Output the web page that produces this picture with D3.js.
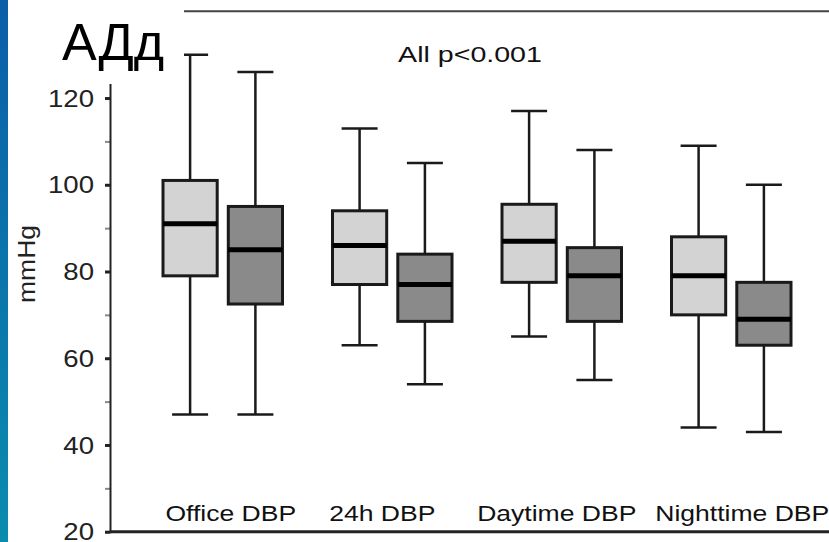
<!DOCTYPE html>
<html>
<head>
<meta charset="utf-8">
<script src="https://cdn.jsdelivr.net/npm/d3@7"></script>
<style>
  html, body { margin: 0; padding: 0; background: #fff; }
  svg { display: block; font-family: "Liberation Sans", Arial, sans-serif; }
</style>
</head>
<body>
<svg id="chart" width="829" height="542"></svg>
<script>
// ---- data ----
const categories = ["Office DBP", "24h DBP", "Daytime DBP", "Nighttime DBP"];
const seriesNames = ["light", "dark"];
// [min, q1, median, q3, max]
const lightBoxes = [
  [47, 79, 91, 101, 130],
  [63, 77, 86, 94, 113],
  [65, 77.5, 87, 95.5, 117],
  [44, 70, 79, 88, 109]
];
const darkBoxes = [
  [47, 72.5, 85, 95, 126],
  [54, 68.5, 77, 84, 105],
  [55, 68.5, 79, 85.5, 108],
  [43, 63, 69, 77.5, 100]
];
const majorTicks = [20, 40, 60, 80, 100, 120, 140];
const minorTicks = [30, 50, 70, 90, 110, 130];
const yLabel = "mmHg";
const noteText = "All p<0.001";
const titleText = "АДд";

// ---- layout ----
const W = 829, H = 542;
const svg = d3.select("#chart");
const axisX = 110;

const y = d3.scaleLinear().domain([20, 140]).range([531.7, 11.3]);
const x = d3.scaleBand().domain(categories).range([138, 816]).padding(0);
const xs = d3.scaleBand().domain(seriesNames).range([25, x.bandwidth() - 25]).paddingInner(0.17);
const fills = { light: "#d3d3d3", dark: "#8a8a8a" };
// small horizontal nudges of the category labels, as placed in the reference layout
const labelNudge = [8, -10, -5, 11];

// blue strip on the left
const defs = svg.append("defs");
const grad = defs.append("linearGradient").attr("id", "strip").attr("x1", 0).attr("y1", 0).attr("x2", 0).attr("y2", 1);
grad.append("stop").attr("offset", "0%").attr("stop-color", "#0b5ea8");
grad.append("stop").attr("offset", "100%").attr("stop-color", "#0a8cae");
svg.append("rect").attr("x", 0).attr("y", 0).attr("width", 8).attr("height", H).attr("fill", "url(#strip)");

// frame lines
svg.append("line").attr("x1", axisX).attr("x2", W).attr("y1", y(140)).attr("y2", y(140))
  .attr("stroke", "#444").attr("stroke-width", 2);
svg.append("line").attr("x1", axisX).attr("x2", W).attr("y1", y(20)).attr("y2", y(20))
  .attr("stroke", "#222").attr("stroke-width", 3);

// minor ticks
const minorAxis = svg.append("g").attr("transform", `translate(${axisX},0)`)
  .call(d3.axisLeft(y).tickValues(minorTicks).tickSize(5).tickFormat(""));
minorAxis.select(".domain").remove();
minorAxis.selectAll(".tick line").attr("stroke", "#888").attr("stroke-width", 2);

// major ticks and labels (the 140 label lies under the title cover in the reference)
const yAxis = svg.append("g").attr("transform", `translate(${axisX},0)`)
  .call(d3.axisLeft(y).tickValues(majorTicks).tickSize(5).tickPadding(0)
    .tickFormat(d => d === 140 ? "" : String(d)));
yAxis.select(".domain").attr("stroke", "#222").attr("stroke-width", 2);
yAxis.selectAll(".tick line").attr("stroke", "#222").attr("stroke-width", 3);
yAxis.selectAll(".tick text")
  .attr("font-size", 23)
  .attr("fill", "#222")
  .attr("font-family", "Liberation Sans, Arial, sans-serif")
  .attr("x", -16 / 1.2)
  .attr("dy", "0.35em")
  .attr("transform", "scale(1.2,1)");

// y label
svg.append("text")
  .attr("transform", "translate(35,264) rotate(-90) scale(1.08,1)")
  .attr("text-anchor", "middle")
  .attr("font-size", 24.5)
  .attr("fill", "#222")
  .text(yLabel);

// category labels
const xAxis = svg.append("g").attr("transform", `translate(0,${y(20)})`)
  .call(d3.axisTop(x).tickSize(0).tickPadding(11));
xAxis.select(".domain").remove();
xAxis.selectAll(".tick")
  .attr("transform", (d, i) => `translate(${x(d) + x.bandwidth() / 2 + labelNudge[i]},0)`);
xAxis.selectAll(".tick text")
  .attr("font-size", 22.5)
  .attr("fill", "#111")
  .attr("font-family", "Liberation Sans, Arial, sans-serif")
  .attr("transform", "scale(1.18,1)");

// boxes
const rows = [];
categories.forEach((c, i) => {
  rows.push({ cat: c, s: "light", v: lightBoxes[i] });
  rows.push({ cat: c, s: "dark", v: darkBoxes[i] });
});
const capW = 36;
const g = svg.append("g");
const box = g.selectAll("g.box").data(rows).join("g").attr("class", "box")
  .attr("transform", d => `translate(${x(d.cat) + xs(d.s)},0)`);
const bw = xs.bandwidth();
// whiskers
box.append("line").attr("x1", bw / 2).attr("x2", bw / 2)
  .attr("y1", d => y(d.v[4])).attr("y2", d => y(d.v[3]))
  .attr("stroke", "#1a1a1a").attr("stroke-width", 2.5);
box.append("line").attr("x1", bw / 2).attr("x2", bw / 2)
  .attr("y1", d => y(d.v[1])).attr("y2", d => y(d.v[0]))
  .attr("stroke", "#1a1a1a").attr("stroke-width", 2.5);
// caps
box.append("line").attr("x1", bw / 2 - capW / 2).attr("x2", bw / 2 + capW / 2)
  .attr("y1", d => y(d.v[4])).attr("y2", d => y(d.v[4]))
  .attr("stroke", "#1a1a1a").attr("stroke-width", 2.5);
box.append("line").attr("x1", bw / 2 - capW / 2).attr("x2", bw / 2 + capW / 2)
  .attr("y1", d => y(d.v[0])).attr("y2", d => y(d.v[0]))
  .attr("stroke", "#1a1a1a").attr("stroke-width", 2.5);
// box
box.append("rect").attr("x", 0).attr("width", bw)
  .attr("y", d => y(d.v[3])).attr("height", d => y(d.v[1]) - y(d.v[3]))
  .attr("fill", d => fills[d.s]).attr("stroke", "#1a1a1a").attr("stroke-width", 3);
// median
box.append("line").attr("x1", 0).attr("x2", bw)
  .attr("y1", d => y(d.v[2])).attr("y2", d => y(d.v[2]))
  .attr("stroke", "#000").attr("stroke-width", 5);

// note
svg.append("text")
  .attr("x", 0).attr("y", 62)
  .attr("text-anchor", "middle")
  .attr("font-size", 22)
  .attr("fill", "#111")
  .attr("transform", "translate(470,0) scale(1.3,1)")
  .text(noteText);

// white title cover box and title
svg.append("rect").attr("x", 8).attr("y", 0).attr("width", 176).attr("height", 84).attr("fill", "#fff");
svg.append("text")
  .attr("x", 62).attr("y", 60)
  .attr("font-size", 52)
  .attr("fill", "#000")
  .text(titleText);
</script>
</body>
</html>
